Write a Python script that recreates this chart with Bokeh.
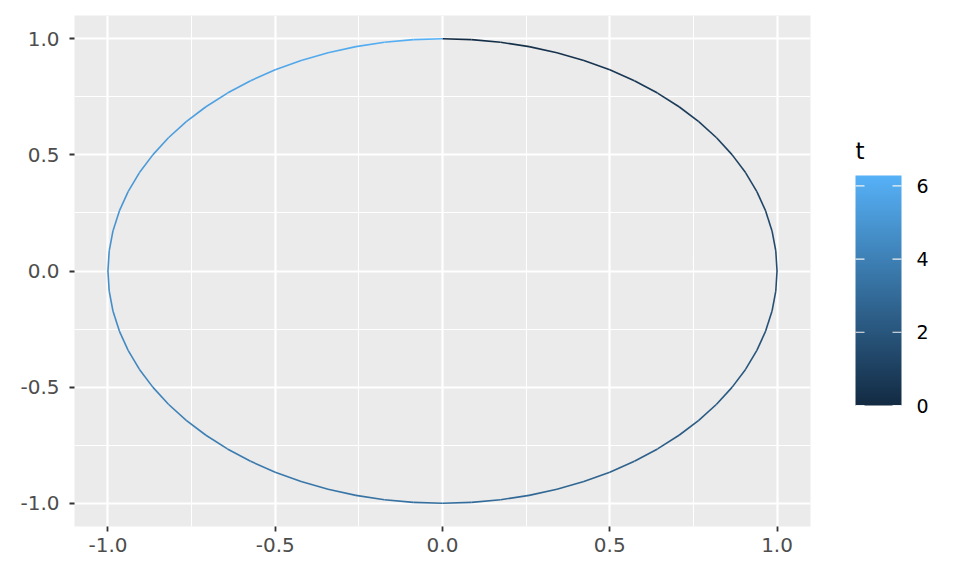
import numpy as np
from bokeh.plotting import figure
from bokeh.layouts import row
from bokeh.models import (ColumnDataSource, LinearColorMapper, FixedTicker,
                          PrintfTickFormatter, Range1d)
from bokeh.core.properties import value
from bokeh.embed import file_html
from bokeh.resources import INLINE

# ---- data: parametric curve x = sin(t), y = cos(t), colour = t ----
t = [0.0000, 0.0873, 0.1745, 0.2618, 0.3491, 0.4363, 0.5236, 0.6109, 0.6981, 0.7854,
     0.8727, 0.9599, 1.0472, 1.1345, 1.2217, 1.3090, 1.3963, 1.4835, 1.5708, 1.6581,
     1.7453, 1.8326, 1.9199, 2.0071, 2.0944, 2.1817, 2.2689, 2.3562, 2.4435, 2.5307,
     2.6180, 2.7053, 2.7925, 2.8798, 2.9671, 3.0543, 3.1416, 3.2289, 3.3161, 3.4034,
     3.4907, 3.5779, 3.6652, 3.7525, 3.8397, 3.9270, 4.0143, 4.1015, 4.1888, 4.2761,
     4.3633, 4.4506, 4.5379, 4.6251, 4.7124, 4.7997, 4.8869, 4.9742, 5.0615, 5.1487,
     5.2360, 5.3233, 5.4105, 5.4978, 5.5851, 5.6723, 5.7596, 5.8469, 5.9341, 6.0214,
     6.1087, 6.1959, 6.2832]
x = [0.0, 0.0872, 0.1736, 0.2588, 0.3420, 0.4226, 0.5, 0.5736, 0.6428, 0.7071, 0.7660,
     0.8192, 0.8660, 0.9063, 0.9397, 0.9659, 0.9848, 0.9962, 1.0,
     0.9962, 0.9848, 0.9659, 0.9397, 0.9063, 0.8660, 0.8192, 0.7660, 0.7071, 0.6428,
     0.5736, 0.5, 0.4226, 0.3420, 0.2588, 0.1736, 0.0872, 0.0,
     -0.0872, -0.1736, -0.2588, -0.3420, -0.4226, -0.5, -0.5736, -0.6428, -0.7071,
     -0.7660, -0.8192, -0.8660, -0.9063, -0.9397, -0.9659, -0.9848, -0.9962, -1.0,
     -0.9962, -0.9848, -0.9659, -0.9397, -0.9063, -0.8660, -0.8192, -0.7660, -0.7071,
     -0.6428, -0.5736, -0.5, -0.4226, -0.3420, -0.2588, -0.1736, -0.0872, 0.0]
y = [1.0, 0.9962, 0.9848, 0.9659, 0.9397, 0.9063, 0.8660, 0.8192, 0.7660, 0.7071,
     0.6428, 0.5736, 0.5, 0.4226, 0.3420, 0.2588, 0.1736, 0.0872, 0.0,
     -0.0872, -0.1736, -0.2588, -0.3420, -0.4226, -0.5, -0.5736, -0.6428, -0.7071,
     -0.7660, -0.8192, -0.8660, -0.9063, -0.9397, -0.9659, -0.9848, -0.9962, -1.0,
     -0.9962, -0.9848, -0.9659, -0.9397, -0.9063, -0.8660, -0.8192, -0.7660, -0.7071,
     -0.6428, -0.5736, -0.5, -0.4226, -0.3420, -0.2588, -0.1736, -0.0872, 0.0,
     0.0872, 0.1736, 0.2588, 0.3420, 0.4226, 0.5, 0.5736, 0.6428, 0.7071, 0.7660,
     0.8192, 0.8660, 0.9063, 0.9397, 0.9659, 0.9848, 0.9962, 1.0]

axis_ticks = [-1.0, -0.5, 0.0, 0.5, 1.0]
axis_minor = [-0.75, -0.25, 0.25, 0.75]
legend_ticks = [0, 2, 4, 6]
legend_title = "t"

FONT = "DejaVu Sans"

# ---- colour gradient (ggplot default low/high) ----
LOW = (0x13, 0x2B, 0x43)
HIGH = (0x56, 0xB1, 0xF7)


def grad(f):
    f = min(max(f, 0.0), 1.0)
    r, g, b = (round(LOW[i] + (HIGH[i] - LOW[i]) * f) for i in range(3))
    return "#%02x%02x%02x" % (r, g, b)


palette = [grad(i / 255) for i in range(256)]
t_lo, t_hi = min(t), max(t)
mapper = LinearColorMapper(palette=palette, low=t_lo, high=t_hi)

seg = ColumnDataSource(dict(
    x0=x[:-1], y0=y[:-1], x1=x[1:], y1=y[1:],
    col=[grad(((t[i] + t[i + 1]) / 2 - t_lo) / (t_hi - t_lo)) for i in range(len(t) - 1)],
))

# ---------------- main panel ----------------
p = figure(frame_width=736, frame_height=511, output_backend="svg", toolbar_location=None,
           x_range=Range1d(-1.1, 1.1), y_range=Range1d(-1.1, 1.1),
           min_border_left=74, min_border_top=15, min_border_bottom=30, min_border_right=10)
p.background_fill_color = "#EBEBEB"
p.border_fill_color = "white"
p.outline_line_color = None

p.segment("x0", "y0", "x1", "y1", source=seg, line_color="col", line_width=1.6,
          line_cap="butt")

for ax in (p.xaxis[0], p.yaxis[0]):
    ax.ticker = FixedTicker(ticks=axis_ticks, minor_ticks=axis_minor)
    ax.formatter = PrintfTickFormatter(format="%.1f")
    ax.axis_line_color = None
    ax.major_tick_line_color = "#333333"
    ax.major_tick_line_width = 1.8
    ax.major_tick_out = 5
    ax.major_tick_in = 0
    ax.minor_tick_line_color = None
    ax.major_label_text_font = FONT
    ax.major_label_text_font_size = "20px"
    ax.major_label_text_color = "#4D4D4D"
p.xaxis[0].major_label_standoff = 6
p.yaxis[0].major_label_standoff = 10

for g in (p.xgrid[0], p.ygrid[0]):
    g.grid_line_color = "white"
    g.grid_line_width = 2.2
    g.minor_grid_line_color = "white"
    g.minor_grid_line_width = 1.1

# ---------------- colour-bar legend (separate canvas) ----------------
LW = 124
LH = 560
SHIFT = 16  # layout offset observed for the legend canvas
bar_top_px, bar_bot_px = 176 - SHIFT, 406 - SHIFT
ppu = (bar_bot_px - bar_top_px) / (t_hi - t_lo)
lf = figure(frame_width=LW, frame_height=LH, output_backend="svg", toolbar_location=None,
            x_range=Range1d(0, LW),
            y_range=Range1d(t_lo - (LH - bar_bot_px) / ppu, t_hi + bar_top_px / ppu),
            min_border=0)
lf.title.visible = False
lf.axis.visible = False
lf.grid.visible = False
lf.outline_line_color = None
lf.background_fill_color = "white"
lf.border_fill_color = "white"

bx0, bw = 35, 46
grad_img = np.linspace(t_lo, t_hi, 300).reshape(300, 1)
lf.image(image=[grad_img], x=bx0, y=t_lo, dw=bw, dh=t_hi - t_lo, color_mapper=mapper)

tk = ColumnDataSource(dict(y=legend_ticks, lab=[str(v) for v in legend_ticks]))
lf.segment(x0=bx0, x1=bx0 + 9, y0="y", y1="y", source=tk, line_color="#F2F2F2",
           line_width=1.1)
lf.segment(x0=bx0 + bw - 9, x1=bx0 + bw, y0="y", y1="y", source=tk,
           line_color="#F2F2F2", line_width=1.1)
lf.text(x=bx0 + bw + 15, y="y", text="lab", source=tk, text_font=value(FONT),
        text_font_size="19px", text_color="black", text_baseline="middle",
        text_align="left")
lf.text(x=[bx0], y=[t_hi + 25 / ppu], text=[legend_title],
        text_font=value(FONT), text_font_size="23px", text_color="black",
        text_baseline="alphabetic", text_align="left")

layout = row(p, lf, spacing=0)
open("out.html", "w").write(file_html(layout, INLINE))
